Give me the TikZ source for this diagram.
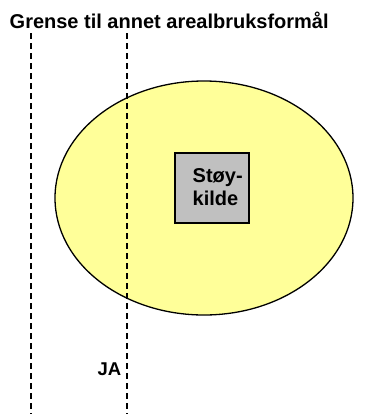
\documentclass[tikz,border=0pt]{standalone}
\usepackage{fontspec}
\setmainfont{Liberation Sans}
\usetikzlibrary{shapes.geometric}
\definecolor{zoneyellow}{RGB}{255,255,153}
\definecolor{boxgray}{RGB}{192,192,192}
\begin{document}
\begin{tikzpicture}[x=1bp,y=-1bp,
  boundary/.style={line width=1.3bp,dash pattern=on 6bp off 4bp},
  zone/.style={draw=black,line width=1.3bp,fill=zoneyellow},
  sourcebox/.style={draw=black,line width=1.3bp,fill=boxgray,minimum width=74bp,minimum height=70bp,inner sep=0pt},
  lbl/.style={font=\bfseries\fontsize{20bp}{23bp}\selectfont,inner sep=0pt}]
\useasboundingbox (0,0) rectangle (366,414);
\coordinate (l1t) at (31,33);
\coordinate (l1b) at (31,414);
\coordinate (l2t) at (127,33);
\coordinate (l2b) at (127,414);
\node[zone,ellipse,minimum width=298bp,minimum height=234bp,inner sep=0pt] (z) at (204,198) {};
\draw[boundary] (l1t) -- (l1b);
\draw[boundary] (l2t) -- (l2b);
\node[sourcebox] (s) at (212,188) {};
\node[lbl,anchor=base west] (s1) at (192.5,182) {Støy-};
\node[lbl,anchor=base west] (s2) at (192.5,205) {kilde};
\node[lbl,anchor=base west] (title) at (9.5,28) {Grense til annet arealbruksformål};
\node[lbl,font=\bfseries\fontsize{18.5bp}{22bp}\selectfont,anchor=base east] (ja) at (121.5,375) {JA};
\end{tikzpicture}
\end{document}
